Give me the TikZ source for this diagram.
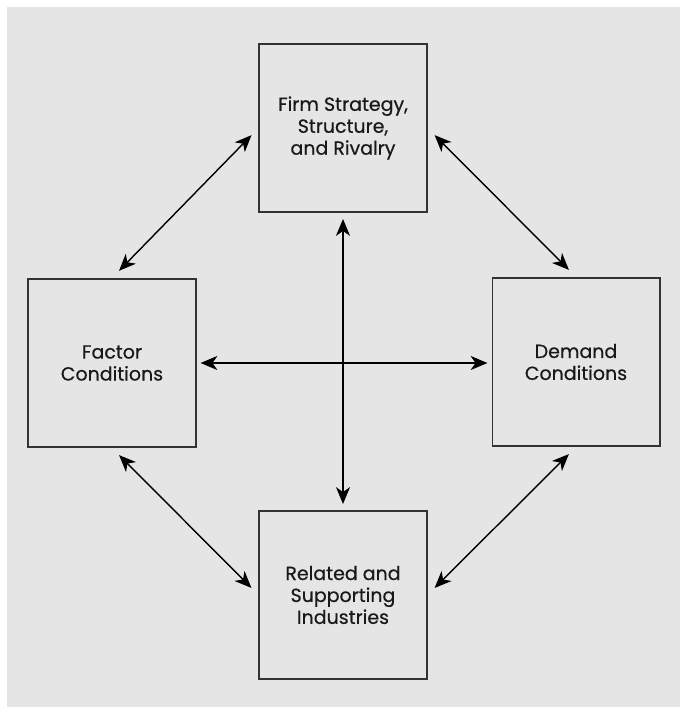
\documentclass[tikz,border=0pt]{standalone}
\usepackage{fontspec}
\setmainfont{Poppins}
\newfontfamily\boxfont{Poppins}[FakeBold=0.5]
\usetikzlibrary{arrows.meta}
\tikzset{
  diamondbox/.style={draw=black!80,line width=1.4pt,fill=black!10,minimum width=4.175cm,minimum height=4.2cm,align=center,font=\boxfont\fontsize{13.5}{15.6}\selectfont,text=black!90},
  link/.style={{Stealth[length=12pt,width=10pt,inset=3.5pt]}-{Stealth[length=12pt,width=10pt,inset=3.5pt]},line width=1pt,shorten >=0.25cm,shorten <=0.25cm}
}
\begin{document}
\begin{tikzpicture}[x=0.025cm,y=-0.025cm]
    \useasboundingbox (0,0) rectangle (680,707);
    \fill[white] (0,0) rectangle (680,707);
    \fill[black!10] (7,7) rectangle (680,707);
    \node[diamondbox] (firm) at (343,128) {Firm Strategy,\\Structure,\\and Rivalry};
    \node[diamondbox] (factor) at (112,363) {Factor\\Conditions};
    \node[diamondbox] (demand) at (576,362) {Demand\\Conditions};
    \node[diamondbox] (related) at (343,595) {Related and\\Supporting\\Industries};
    \draw[link] (factor.north) -- (firm.west);
    \draw[link] (firm.east) -- (demand.north);
    \draw[link] (factor.south) -- (related.west);
    \draw[link] (related.east) -- (demand.south);
    \draw[link,shorten >=0.15cm,shorten <=0.15cm] (firm.south) -- (related.north);
    \draw[link,shorten >=0.1cm,shorten <=0.1cm] (factor.east) -- (factor.east -| demand.west);
  \end{tikzpicture}
\end{document}
